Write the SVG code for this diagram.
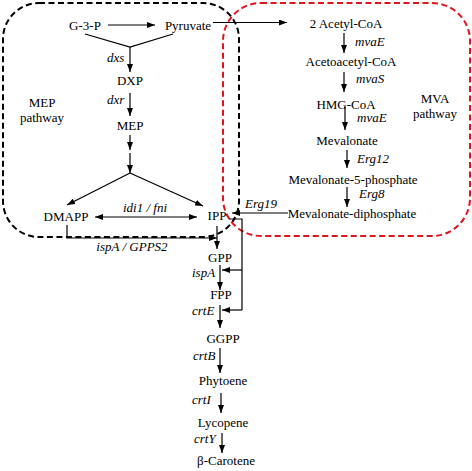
<svg xmlns="http://www.w3.org/2000/svg" width="472" height="471" viewBox="0 0 472 471" font-family="Liberation Serif, serif" font-size="13">
<defs>
<marker id="ah" markerUnits="userSpaceOnUse" markerWidth="8" markerHeight="6" refX="8" refY="3" orient="auto-start-reverse">
<path d="M0,0 L8,3 L0,6 z" fill="#000"/>
</marker>
<style>
text{font-family:'Liberation Serif',serif;font-size:13px;fill:#000}
.c{text-anchor:middle}
.i{font-style:italic}
.ln{fill:none;stroke:#000;stroke-width:1.2}
.a{marker-end:url(#ah)}
.box{fill:none;stroke-width:2;stroke-dasharray:6,3.5}
</style>
</defs>
<rect class="box" x="3" y="3" width="236" height="234" rx="36" stroke="#000"/>
<rect class="box" x="223" y="3" width="247" height="233" rx="38" stroke="#e0141c"/>
<g id="connectors">
<path class="ln a" d="M108,25 H155"/>
<path class="ln a" d="M213,22.5 H287"/>
<path class="ln" d="M85,34 L130,47 L173,34"/>
<path class="ln a" d="M130,47 V72"/>
<path class="ln a" d="M130,93 V116"/>
<path class="ln a" d="M130,135 V150"/>
<path class="ln a" d="M130,153 V173"/>
<path class="ln a" d="M130,173 L67,205"/>
<path class="ln a" d="M130,173 L203,206"/>
<path class="ln a" d="M95,217 H197" marker-start="url(#ah)"/>
<path class="ln a" d="M67,225 V238 H217"/>
<path class="ln a" d="M217,226 V249"/>
<path class="ln" d="M229,219 H242 V310"/>
<path class="ln a" d="M242,270 H222"/>
<path class="ln a" d="M242,310 H222"/>
<path class="ln a" d="M288,213 H232"/>
<path class="ln a" d="M344,33 V53"/>
<path class="ln a" d="M344,72 V92"/>
<path class="ln a" d="M345,107 V130"/>
<path class="ln a" d="M347,150 V168"/>
<path class="ln a" d="M347,187 V207"/>
<path class="ln a" d="M220,265 V290"/>
<path class="ln a" d="M220,305 V328"/>
<path class="ln a" d="M220,348 V373"/>
<path class="ln a" d="M221,393 V413"/>
<path class="ln a" d="M222,433 V453"/>
</g>
<g id="labels">
<text class="i" x="107" y="62">dxs</text>
<text class="i" x="107" y="104">dxr</text>
<text class="i c" x="145" y="212">idi1 / fni</text>
<text class="i c" x="132" y="251">ispA / GPPS2</text>
<text class="i" x="355" y="46">mvaE</text>
<text class="i" x="356" y="83">mvaS</text>
<text class="i" x="357" y="122">mvaE</text>
<text class="i" x="357" y="163">Erg12</text>
<text class="i" x="359" y="198">Erg8</text>
<text class="i" x="245" y="208">Erg19</text>
<text class="i" x="192" y="277">ispA</text>
<text class="i" x="192" y="315">crtE</text>
<text class="i" x="193" y="360">crtB</text>
<text class="i" x="192" y="404">crtI</text>
<text class="i" x="194" y="443">crtY</text>
<text class="c" x="42" y="107">MEP</text>
<text class="c" x="42" y="122">pathway</text>
<text class="c" x="435" y="103">MVA</text>
<text class="c" x="435" y="118">pathway</text>
</g>
<g id="G3P"><text class="c" x="85" y="30">G-3-P</text></g>
<g id="Pyruvate"><text class="c" x="188" y="30">Pyruvate</text></g>
<g id="DXP"><text class="c" x="130" y="85">DXP</text></g>
<g id="MEP"><text class="c" x="130" y="130">MEP</text></g>
<g id="DMAPP"><text class="c" x="66" y="221">DMAPP</text></g>
<g id="IPP"><text class="c" x="217" y="220">IPP</text></g>
<g id="AcetylCoA"><text class="c" x="346" y="28">2 Acetyl-CoA</text></g>
<g id="AcetoacetylCoA"><text class="c" x="351" y="66">Acetoacetyl-CoA</text></g>
<g id="HMGCoA"><text class="c" x="346" y="109">HMG-CoA</text></g>
<g id="Mevalonate"><text class="c" x="347" y="145">Mevalonate</text></g>
<g id="Mev5P"><text class="c" x="353" y="184">Mevalonate-5-phosphate</text></g>
<g id="MevPP"><text class="c" x="352" y="218">Mevalonate-diphosphate</text></g>
<g id="GPP"><text class="c" x="220" y="262">GPP</text></g>
<g id="FPP"><text class="c" x="221" y="299">FPP</text></g>
<g id="GGPP"><text class="c" x="223" y="343">GGPP</text></g>
<g id="Phytoene"><text class="c" x="223" y="385">Phytoene</text></g>
<g id="Lycopene"><text class="c" x="223" y="427">Lycopene</text></g>
<g id="Carotene"><text class="c" x="226" y="465">β-Carotene</text></g>
</svg>
